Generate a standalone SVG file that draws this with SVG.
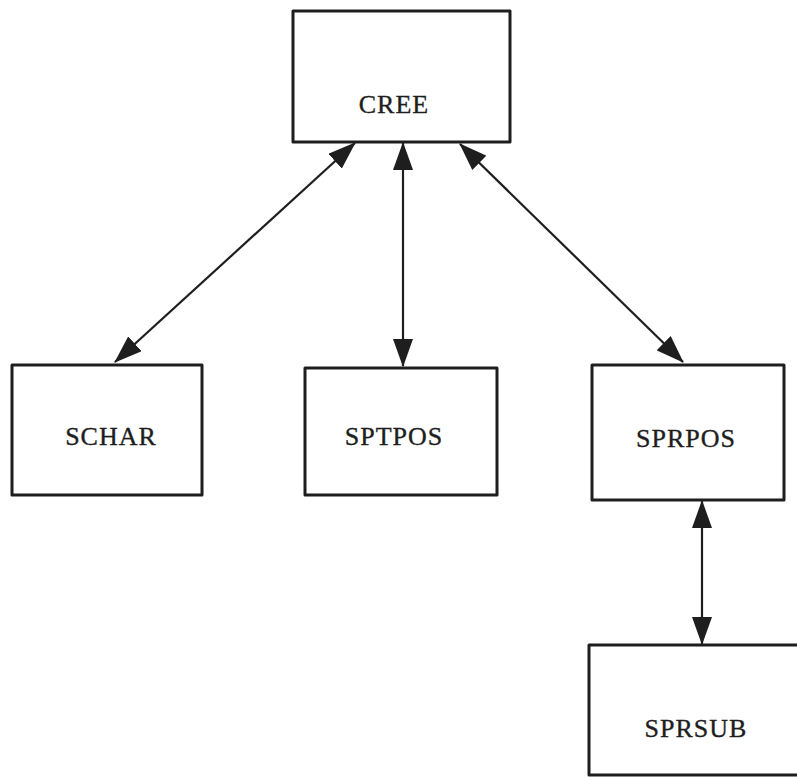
<svg xmlns="http://www.w3.org/2000/svg" width="797" height="777" viewBox="0 0 797 777">
  <style>
    .box { fill: #fff; stroke: #1e1e1e; stroke-width: 3; stroke-linejoin: round; }
    .lbl { font-family: "Liberation Serif", "Times New Roman", serif; font-size: 26px; letter-spacing: 1px; fill: #1e1e1e; stroke: #1e1e1e; stroke-width: 0.35; text-anchor: middle; }
    .wire { stroke: #1e1e1e; stroke-width: 2.2; fill: none; marker-start: url(#ah); marker-end: url(#ah); }
  </style>
  <defs>
    <!-- solid arrowhead used at both ends of every link -->
    <marker id="ah" viewBox="0 0 28 20" markerWidth="28" markerHeight="20" refX="27" refY="10" orient="auto-start-reverse" markerUnits="userSpaceOnUse">
      <path d="M0,0 L28,10 L0,20 Z" fill="#1e1e1e"/>
    </marker>
  </defs>
  <rect width="797" height="777" fill="#fff"/>

  <g id="connectors">
    <line class="wire" x1="355" y1="143" x2="115" y2="362"/>
    <line class="wire" x1="403" y1="143" x2="403" y2="366"/>
    <line class="wire" x1="460" y1="144" x2="683" y2="362"/>
    <line class="wire" x1="702" y1="501" x2="702" y2="644"/>
  </g>

  <g id="cree">
    <rect class="box" x="293" y="11" width="217" height="131"/>
    <text class="lbl" x="394" y="113">CREE</text>
  </g>
  <g id="schar">
    <rect class="box" x="12" y="365" width="190" height="130"/>
    <text class="lbl" x="111" y="445">SCHAR</text>
  </g>
  <g id="sptpos">
    <rect class="box" x="305" y="368" width="192" height="127"/>
    <text class="lbl" x="394" y="445">SPTPOS</text>
  </g>
  <g id="sprpos">
    <rect class="box" x="592" y="365" width="192" height="135"/>
    <text class="lbl" x="686" y="447">SPRPOS</text>
  </g>
  <g id="sprsub">
    <rect class="box" x="589" y="645" width="230" height="130"/>
    <text class="lbl" x="696" y="737">SPRSUB</text>
  </g>
</svg>
